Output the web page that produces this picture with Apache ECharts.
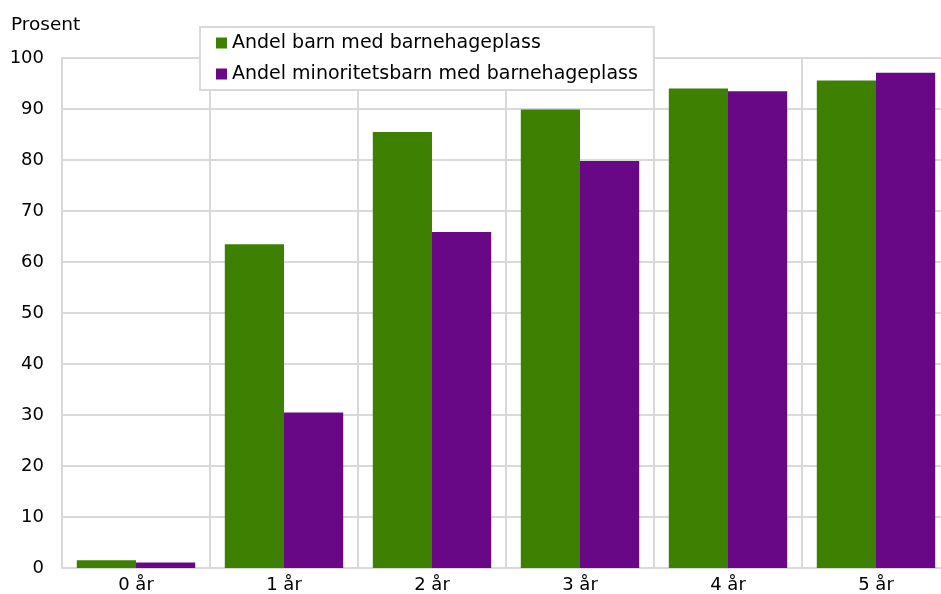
<!DOCTYPE html>
<html>
<head>
<meta charset="utf-8">
<script src="https://cdn.jsdelivr.net/npm/echarts@6/dist/echarts.min.js"></script>
<style>
html,body{margin:0;padding:0;background:#fff;}
#chart{width:941px;height:594px;}
</style>
</head>
<body>
<div id="chart"></div>
<script>
var categories = ['0 år', '1 år', '2 år', '3 år', '4 år', '5 år'];
var seriesNames = ['Andel barn med barnehageplass', 'Andel minoritetsbarn med barnehageplass'];
var allChildren = [1.5, 63.5, 85.5, 89.9, 94.0, 95.6];
var minorityChildren = [1.1, 30.5, 65.9, 79.8, 93.5, 97.1];
var yTicks = [0, 10, 20, 30, 40, 50, 60, 70, 80, 90, 100];

var FONT = 'DejaVu Sans';
var chart = echarts.init(document.getElementById('chart'), null, {renderer: 'canvas'});
chart.setOption({
  animation: false,
  backgroundColor: '#ffffff',
  textStyle: {fontFamily: FONT, color: '#000'},
  title: {
    text: 'Prosent',
    left: 11, top: 15, padding: 0,
    textStyle: {fontFamily: FONT, fontSize: 18.5, fontWeight: 'normal', color: '#000', lineHeight: 20}
  },
  legend: {
    orient: 'vertical',
    left: 200, top: 27,
    padding: [6, 16, 6, 16],
    backgroundColor: '#ffffff',
    borderColor: '#d9d9d9',
    borderWidth: 2,
    borderRadius: 0,
    icon: 'rect',
    itemWidth: 11, itemHeight: 11,
    itemGap: 11,
    textStyle: {fontFamily: FONT, fontSize: 19, color: '#000', lineHeight: 20},
    data: seriesNames
  },
  grid: {left: 62, width: 888, top: 58, height: 510, containLabel: false, outerBoundsMode: 'none'},
  xAxis: {
    type: 'category',
    data: categories,
    boundaryGap: true,
    axisLine: {show: true, lineStyle: {color: '#d9d9d9', width: 2}},
    axisTick: {show: false},
    splitLine: {show: true, lineStyle: {color: '#d9d9d9', width: 2}},
    axisLabel: {margin: 8, fontFamily: FONT, fontSize: 18, color: '#000'}
  },
  yAxis: {
    type: 'value',
    min: yTicks[0], max: yTicks[yTicks.length - 1], interval: yTicks[1] - yTicks[0],
    axisLine: {show: true, lineStyle: {color: '#d9d9d9', width: 2}},
    axisTick: {show: false},
    splitLine: {show: true, lineStyle: {color: '#d9d9d9', width: 2}},
    axisLabel: {margin: 18, fontFamily: FONT, fontSize: 18, color: '#000'}
  },
  series: [
    {
      name: seriesNames[0], type: 'bar', data: allChildren,
      barGap: '0%', barCategoryGap: '20%',
      itemStyle: {color: '#3e8001'}
    },
    {
      name: seriesNames[1], type: 'bar', data: minorityChildren,
      barGap: '0%', barCategoryGap: '20%',
      itemStyle: {color: '#680886'}
    }
  ]
});
</script>
</body>
</html>
